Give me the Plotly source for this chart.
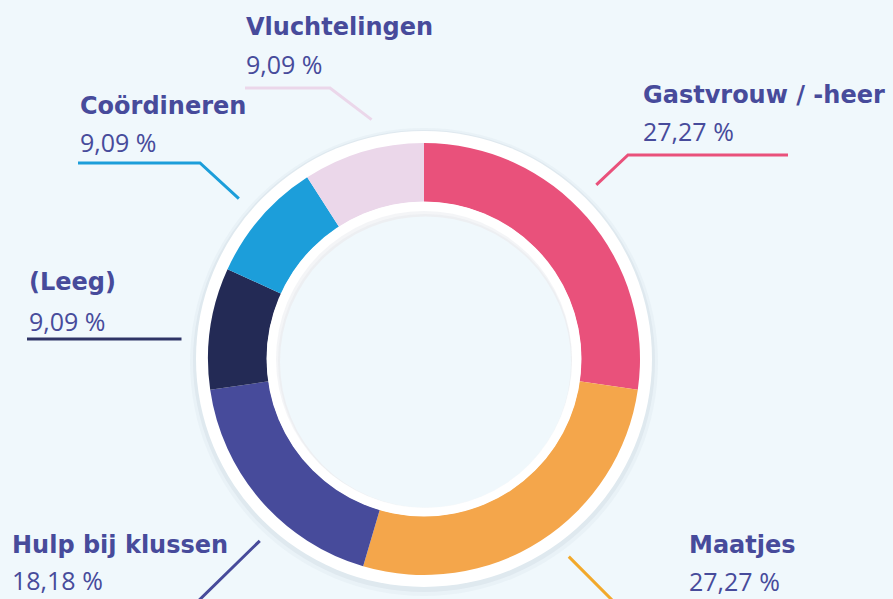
import math
import plotly.graph_objects as go

# ---- data ----
categories = ["Gastvrouw / -heer", "Maatjes", "Hulp bij klussen", "(Leeg)", "Coördineren", "Vluchtelingen"]
percentages = [27.27, 27.27, 18.18, 9.09, 9.09, 9.09]
slice_colors = ["#E9517B", "#F4A64B", "#474B9B", "#232A55", "#1C9EDA", "#EBD7EA"]
line_colors = ["#E9517B", "#F2A92B", "#474B9B", "#2F3466", "#1C9EDA", "#EBD7EA"]

# ---- layout geometry (pixels) ----
W, H = 893, 599
CX, CY, R = 424, 359, 216
HOLE_R = 157
BG = "#F0F8FC"
TEXT = "#474B9B"
NAME_FONT = "DejaVu Sans"
PCT_FONT = "Open Sans"

# label placement per category (da = angular nudge of the connector start, degrees)
label_layout = {
    "Gastvrouw / -heer": dict(x=641, ny=95, py=131, ly=155, lx0=788, lx1=628, straight=False, da=-4.4),
    "Maatjes": dict(x=687, ny=545, py=581, ly=612, lx0=780, lx1=624, straight=False, da=-3.5),
    "Hulp bij klussen": dict(x=10, ny=545, py=580, ly=612, lx0=0, lx1=187, straight=False, da=-7),
    "(Leeg)": dict(x=27, ny=282, py=321, ly=339, lx0=27, lx1=183, straight=True, da=0),
    "Coördineren": dict(x=78, ny=106, py=142, ly=163, lx0=78, lx1=200, straight=False, da=0),
    "Vluchtelingen": dict(x=244, ny=27, py=64, ly=88, lx0=245, lx1=330, straight=False, da=4),
}

def px(x):
    return x / W

def py(y):
    return 1 - y / H

fig = go.Figure()
fig.add_trace(go.Pie(
    labels=categories, values=percentages, sort=False, direction="clockwise", rotation=0,
    hole=HOLE_R / R, marker=dict(colors=slice_colors, line=dict(width=0)),
    textinfo="none", hoverinfo="label+percent", showlegend=False,
    domain=dict(x=[px(CX - R), px(CX + R)], y=[py(CY + R), py(CY - R)]),
))

shapes = []

def circle(r, fill, layer, dx=0, dy=0):
    return dict(type="circle", xref="paper", yref="paper",
                x0=px(CX - r + dx), x1=px(CX + r + dx), y0=py(CY + r + dy), y1=py(CY - r + dy),
                fillcolor=fill, line=dict(width=0), layer=layer)

# outer white ring with soft shadow
shapes.append(circle(234, "rgba(120,130,150,0.05)", "below", 0, 3))
shapes.append(circle(231, "rgba(120,130,150,0.08)", "below", 0, 2))
shapes.append(circle(228, "#FFFFFF", "below"))
# inner white ring and hole with inner shadow
shapes.append(circle(HOLE_R + 0.5, "#FFFFFF", "above"))
shapes.append(circle(148, "rgba(120,130,150,0.08)", "above"))
shapes.append(circle(147, "rgba(120,130,150,0.05)", "above", 1, 2))
shapes.append(circle(145.5, BG, "above", 1.5, 3))

annotations = []
total = sum(percentages)
cum = 0.0
for cat, val, lc in zip(categories, percentages, line_colors):
    L = label_layout[cat]
    mid = (cum + val / 2) / total * 360.0 + L["da"]
    cum += val
    a = math.radians(mid)
    sx = CX + 245 * math.sin(a)
    sy = CY - 245 * math.cos(a)
    if L["straight"]:
        path = f"M {px(L['lx0'])},{py(L['ly'])} L {px(sx)},{py(L['ly'])}"
    else:
        path = f"M {px(L['lx0'])},{py(L['ly'])} L {px(L['lx1'])},{py(L['ly'])} L {px(sx)},{py(sy)}"
    shapes.append(dict(type="path", xref="paper", yref="paper", path=path,
                       line=dict(color=lc, width=3), layer="above"))
    annotations.append(dict(xref="paper", yref="paper", x=px(L["x"]), y=py(L["ny"]),
                            xanchor="left", yanchor="middle", showarrow=False,
                            text=cat, font=dict(family=NAME_FONT, size=24, weight="bold", color=TEXT)))
    pct_txt = f"{val:.2f}".replace(".", ",") + " %"
    annotations.append(dict(xref="paper", yref="paper", x=px(L["x"]), y=py(L["py"]),
                            xanchor="left", yanchor="middle", showarrow=False,
                            text=pct_txt, font=dict(family=PCT_FONT, size=25, weight=400, color=TEXT)))

fig.update_layout(
    width=W, height=H, autosize=False,
    margin=dict(l=0, r=0, t=0, b=0),
    paper_bgcolor=BG, plot_bgcolor=BG,
    shapes=shapes, annotations=annotations, showlegend=False,
)

fig.write_html("out.html", config={"displayModeBar": False},
               post_script="document.body.style.margin='0';document.body.style.background='" + BG + "';")
